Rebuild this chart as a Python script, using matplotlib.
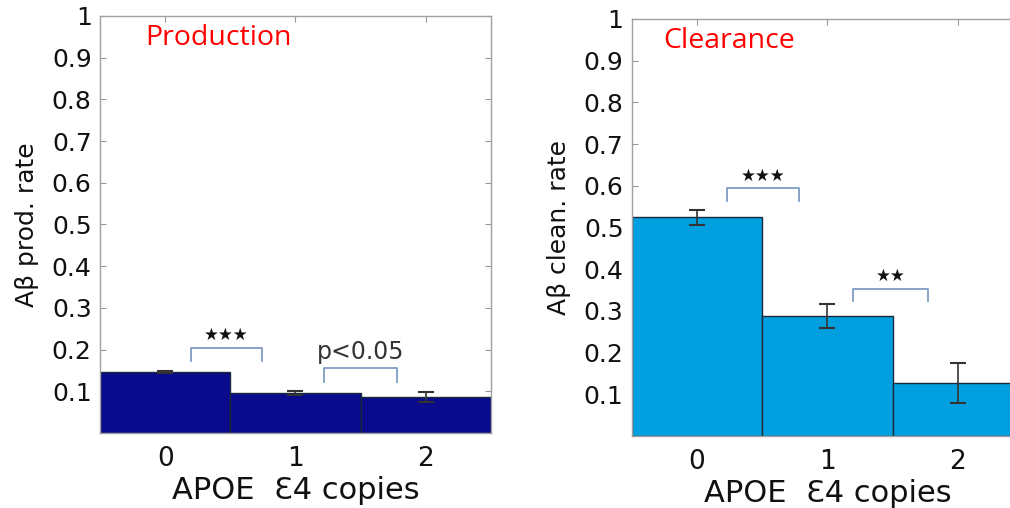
import matplotlib
matplotlib.use("Agg")
import matplotlib.pyplot as plt

plt.rcParams['font.family'] = ['DejaVu Sans']

copies = [0, 1, 2]
prod_rate = [0.146, 0.096, 0.086]
prod_err = [0.003, 0.005, 0.012]
clear_rate = [0.524, 0.288, 0.126]
clear_err = [0.019, 0.028, 0.048]
yticks = [0.1, 0.2, 0.3, 0.4, 0.5, 0.6, 0.7, 0.8, 0.9, 1]
ytick_labels = ['0.1', '0.2', '0.3', '0.4', '0.5', '0.6', '0.7', '0.8', '0.9', '1']

# significance brackets: (x0, x1, y legs, y top, label, label y)
prod_sig = [(0.20, 0.74, 0.173, 0.204, '★★★', 0.235),
            (1.22, 1.78, 0.122, 0.156, 'p<0.05', 0.195)]
clear_sig = [(0.23, 0.78, 0.564, 0.595, '★★★', 0.624),
             (1.20, 1.77, 0.324, 0.352, '★★', 0.383)]

fig = plt.figure(figsize=(10.1, 5.08), dpi=100)
ax1 = fig.add_axes([0.099, 0.1476, 0.387, 0.821])
ax2 = fig.add_axes([0.6257, 0.1417, 0.387, 0.821])


def draw_panel(ax, vals, errs, color, ylabel, title, title_x, sig):
    ax.bar(copies, vals, width=1.0, color=color, edgecolor='#1a2a3a', linewidth=1.0, zorder=2)
    ax.errorbar(copies, vals, yerr=errs, fmt='none', ecolor='#333333',
                elinewidth=1.2, capsize=5.5, capthick=1.5, zorder=3)
    ax.set_xlim(-0.5, 2.5)
    ax.set_ylim(0, 1)
    ax.set_yticks(yticks)
    ax.set_yticklabels(ytick_labels)
    ax.set_xticks(copies)
    for s in ax.spines.values():
        s.set_color('#a0a0a0')
        s.set_linewidth(1.0)
    ax.tick_params(axis='y', direction='in', length=4, color='#999999',
                   labelsize=18, pad=6, right=True, labelcolor='#111111')
    ax.tick_params(axis='x', direction='in', length=4, color='#999999',
                   labelsize=19, pad=9, top=True, labelcolor='#111111')
    ax.set_ylabel(ylabel, fontsize=18, color='#111111', labelpad=9)
    ax.set_xlabel('APOE  Ɛ4 copies', fontsize=22, color='#111111', labelpad=3)
    ax.text(title_x, 0.947, title, transform=ax.transAxes, color='red',
            fontsize=20.5, family=['Open Sans', 'DejaVu Sans'], va='center', ha='left')
    for x0, x1, yl, yt, lab, ly in sig:
        ax.plot([x0, x0, x1, x1], [yl, yt, yt, yl], color='#7f9cc6', lw=1.3, zorder=4)
        if lab.startswith('★'):
            ax.text((x0 + x1) / 2, ly, lab, ha='center', va='center', fontsize=12,
                    color='#111111')
        else:
            ax.text((x0 + x1) / 2, ly, lab, ha='center', va='center', fontsize=17,
                    color='#333333')


draw_panel(ax1, prod_rate, prod_err, '#0a0a8c', 'Aβ prod. rate', 'Production', 0.115, prod_sig)
draw_panel(ax2, clear_rate, clear_err, '#00a0e0', 'Aβ clean. rate', 'Clearance', 0.079, clear_sig)

fig.savefig('out.png', dpi=100)
